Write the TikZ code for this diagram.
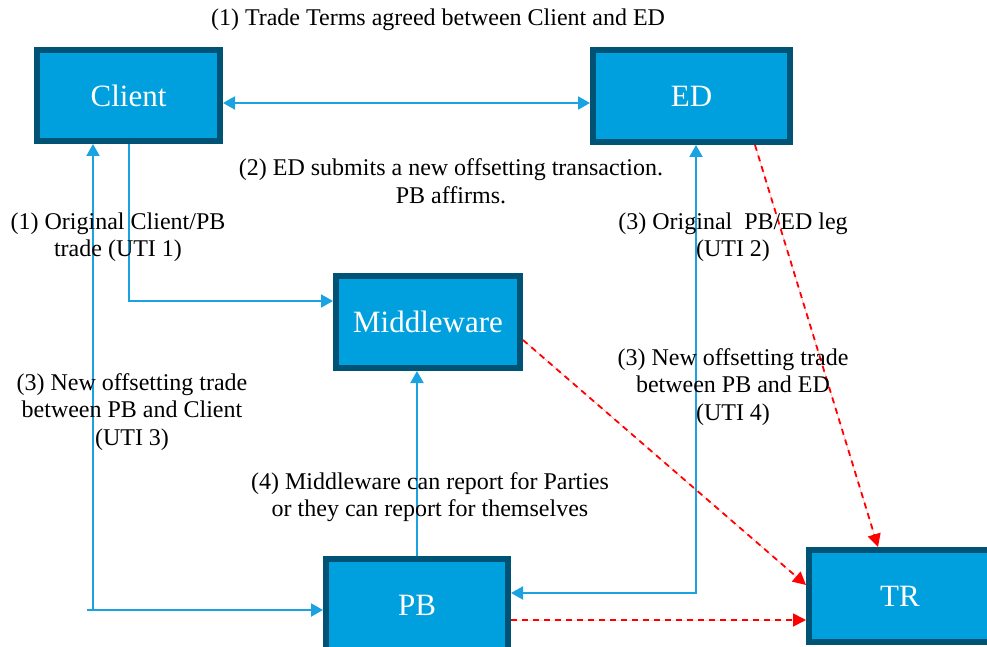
\documentclass[tikz,border=0pt]{standalone}
\usepackage{fontspec}
\setmainfont{Liberation Serif}
\usetikzlibrary{arrows.meta}
\definecolor{boxfill}{HTML}{00A0DF}
\definecolor{boxborder}{HTML}{005375}
\definecolor{flowblue}{HTML}{1AA3E0}
\definecolor{repred}{HTML}{FF0000}
\begin{document}
\begin{tikzpicture}[x=1pt,y=-1pt,
  box/.style={draw=boxborder, line width=6pt, fill=boxfill, text=white,
    font=\fontsize{31}{36}\selectfont, inner sep=0pt, outer sep=3pt},
  note/.style={font=\fontsize{24}{27.5}\selectfont, align=center, inner sep=0pt, text=black},
  flow/.style={draw=flowblue, line width=2pt, -{Triangle[length=12pt,width=13pt]}},
  flowboth/.style={draw=flowblue, line width=2pt, {Triangle[length=12pt,width=13pt]}-{Triangle[length=12pt,width=13pt]}},
  plain/.style={draw=flowblue, line width=2pt},
  report/.style={draw=repred, line width=1.8pt, dash pattern=on 6pt off 5pt, -{Triangle[length=13pt,width=13pt]}, fill=repred}
]
\useasboundingbox (0,0) rectangle (987,647);

% boxes
\node[box, minimum width=183pt, minimum height=91pt] (client) at (128.5,95.5) {Client};
\node[box, minimum width=197pt, minimum height=92pt] (ed) at (691.5,96) {ED};
\node[box, minimum width=184pt, minimum height=92pt] (mw) at (428,322) {Middleware};
\node[box, minimum width=182pt, minimum height=92pt] (pb) at (417,605) {PB};
\node[box, minimum width=182pt, minimum height=92pt] (tr) at (900,596) {TR};

% blue connectors
\draw[flowboth] ([yshift=-7.5pt]client.east) -- ([yshift=-7pt]ed.west);
\draw[flow] (client.south) |- ([yshift=21pt]mw.west);
\coordinate (lstart) at (87,610);
\coordinate (lcorner) at (93,610);
\draw[flow] (lstart) -- ([yshift=-5pt]pb.west);
\draw[flow] (lcorner) -- (lcorner |- client.south);
\draw[flow] (pb.north) -- (pb.north |- mw.south);
\draw[flowboth] ([xshift=4.5pt]ed.south) |- ([yshift=12pt]pb.east);

% red dashed reporting
\draw[report] ([xshift=63.5pt]ed.south) -- ([xshift=-22pt]tr.north);
\draw[report] ([yshift=-18pt]mw.east) -- ([yshift=11pt]tr.west);
\draw[report] ([yshift=-15pt]pb.east) -- ([yshift=-24pt]tr.west);

% labels
\node[note] (t1) at (438,20) {(1) Trade Terms agreed between Client and ED};
\node[note] (t2) at (451,181) {(2) ED submits a new offsetting transaction.\\PB affirms.};
\node[note] (t3) at (118,237) {(1) Original Client/PB\\trade (UTI 1)};
\node[note] (t4) at (733,237) {(3) Original~~PB/ED leg\\(UTI 2)};
\node[note] (t5) at (132,412) {(3) New offsetting trade\\between PB and Client\\(UTI 3)};
\node[note] (t6) at (733,387) {(3) New offsetting trade\\between PB and ED\\(UTI 4)};
\node[note] (t7) at (430,497) {(4) Middleware can report for Parties\\or they can report for themselves};
\end{tikzpicture}
\end{document}
